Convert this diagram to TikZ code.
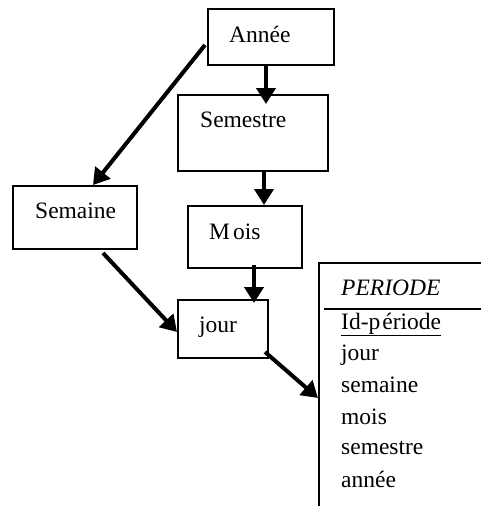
\documentclass[tikz,border=0pt]{standalone}
\usepackage{fontspec}
\setmainfont{Liberation Serif}
\usetikzlibrary{arrows.meta,calc}
\begin{document}
\begin{tikzpicture}[x=1pt,y=-1pt,
  box/.style={draw,line width=1.5pt,inner sep=0pt,anchor=north west},
  lbl/.style={anchor=base west,inner sep=0pt,font=\fontsize{23.5}{28}\selectfont},
  arr/.style={line width=4pt,-{Triangle[length=16pt,width=19pt]}},
  rule/.style={line width=1.5pt}]
\useasboundingbox (0,0) rectangle (481,506);
% hierarchy boxes
\node[box,minimum width=126pt,minimum height=56pt] (annee) at (207,8) {};
\node[box,minimum width=150pt,minimum height=76pt] (semestre) at (177,94) {};
\node[box,minimum width=124pt,minimum height=63pt] (semaine) at (12,185) {};
\node[box,minimum width=114pt,minimum height=62pt] (mois) at (187,205) {};
\node[box,minimum width=90pt,minimum height=58pt] (jour) at (177,299) {};
% box labels
\node[lbl] (tA) at (229,42) {Année};
\node[lbl] (tS) at (200,127) {Semestre};
\node[lbl] (tW) at (35,218) {Semaine};
\node[lbl] (tM) at (209,239) {M\kern3pt ois};
\node[lbl] (tJ) at (199,332) {jour};
% entity PERIODE
\coordinate (pTL) at (319,263);
\coordinate (pTR) at (481,263);
\coordinate (pBL) at (319,506);
\coordinate (pHL) at (324,309);
\coordinate (pHR) at (481,309);
\draw[rule] (pTR) -- (pTL) -- (pBL);
\draw[rule] (pHL) -- (pHR);
\node[lbl,font=\fontsize{23.5}{28}\selectfont\itshape] (pTitle) at (341,295) {PERIODE};
\node[lbl] (p0) at (341,329) {\underline{Id-p\kern2pt ériode}};
\node[lbl] (p1) at (341,360) {jour};
\node[lbl] (p2) at (341,392) {semaine};
\node[lbl] (p3) at (341,424) {mois};
\node[lbl] (p4) at (341,454) {semestre};
\node[lbl] (p5) at (341,487) {année};
% connectors
\coordinate (a1) at (annee.south -| 266,0);
\coordinate (a2) at ([yshift=-10pt]semestre.north -| 266,0);
\draw[arr] (a1) -- (a2);
\coordinate (b1) at (semestre.south -| 264,0);
\coordinate (b2) at (mois.north -| 264,0);
\draw[arr] (b1) -- (b2);
\coordinate (c1) at (205,45);
\coordinate (c2) at (semaine.north -| 93,0);
\draw[arr] (c1) -- (c2);
\coordinate (d1) at (254,265);
\coordinate (d2) at ([yshift=-4pt]jour.north -| 254,0);
\draw[arr] (d1) -- (d2);
\coordinate (e1) at (103,253);
\coordinate (e2) at (jour.west |- 0,332);
\draw[arr] (e1) -- (e2);
\coordinate (f1) at (265,352);
\coordinate (f2) at (318,398);
\draw[arr] (f1) -- (f2);
\end{tikzpicture}
\end{document}
